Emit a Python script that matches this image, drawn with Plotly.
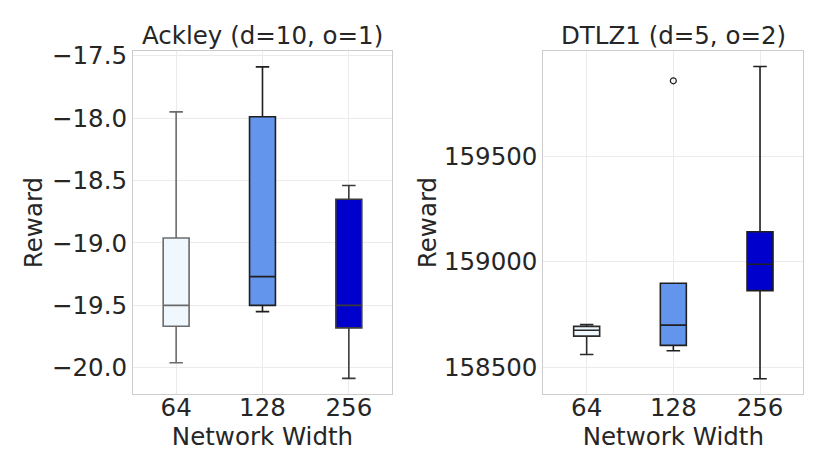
import plotly.graph_objects as go
from plotly.subplots import make_subplots

# network widths on the x axis
widths = ['64', '128', '256']
box_colors = ['#F0F8FF', '#6495ED', '#0000CD']

# Ackley (d=10, o=1) box stats
ack_low = [-19.96, -19.55, -20.085]
ack_q1 = [-19.667, -19.50, -19.68]
ack_med = [-19.50, -19.27, -19.50]
ack_q3 = [-18.96, -17.99, -18.65]
ack_high = [-17.95, -17.59, -18.54]
ack_edges = ['#6b6b6b', '#1f1f1f', '#3a3a3a']

# DTLZ1 (d=5, o=2)
dtlz_low = [158561, 158579, 158446]
dtlz_q1 = [158648, 158604, 158863]
dtlz_med = [158676, 158700, 158988]
dtlz_q3 = [158694, 158898, 159142]
dtlz_high = [158703, 158898, 159924]
dtlz_edges = ['#2a2a2a', '#1f1f1f', '#1f1f1f']
dtlz_out_x = ['128']
dtlz_out_y = [159856]

ack_ticks = [-20.0, -19.5, -19.0, -18.5, -18.0, -17.5]
dtlz_ticks = [158500, 159000, 159500]

TXT = '#262626'
FONT = 'DejaVu Sans'

fig = make_subplots(rows=1, cols=2)

for i, w in enumerate(widths):
    fig.add_trace(go.Box(x=[w], q1=[ack_q1[i]], median=[ack_med[i]], q3=[ack_q3[i]],
                         lowerfence=[ack_low[i]], upperfence=[ack_high[i]],
                         width=0.3, whiskerwidth=0.52, fillcolor=box_colors[i],
                         line=dict(color=ack_edges[i], width=1.6), boxpoints=False,
                         showlegend=False), row=1, col=1)
    fig.add_trace(go.Box(x=[w], q1=[dtlz_q1[i]], median=[dtlz_med[i]], q3=[dtlz_q3[i]],
                         lowerfence=[dtlz_low[i]], upperfence=[dtlz_high[i]],
                         width=0.3, whiskerwidth=0.52, fillcolor=box_colors[i],
                         line=dict(color=dtlz_edges[i], width=1.6), boxpoints=False,
                         showlegend=False), row=1, col=2)

fig.add_trace(go.Scatter(x=dtlz_out_x, y=dtlz_out_y, mode='markers',
                         marker=dict(symbol='circle-open', size=6, color='#1f1f1f',
                                     line=dict(width=1.2)),
                         showlegend=False), row=1, col=2)

ax_common = dict(showgrid=True, gridcolor='#ebebeb', gridwidth=1, automargin=False,
                 showline=True, linecolor='#cccccc', linewidth=1, mirror=True,
                 zeroline=False, ticks='', tickfont=dict(size=24.5, color=TXT, family=FONT))

fig.update_xaxes(**ax_common, type='category', categoryorder='array', categoryarray=widths,
                 range=[-0.5, 2.5], ticklabelstandoff=-8,
                 title=dict(text='Network Width', font=dict(size=24.5, color=TXT, family=FONT),
                            standoff=0))
fig.update_xaxes(domain=[0.1602, 0.4723], row=1, col=1)
fig.update_xaxes(domain=[0.6546, 0.9679], row=1, col=2)

fig.update_yaxes(**ax_common, domain=[0.1705, 0.8926],
                 title=dict(text='Reward', font=dict(size=24.5, color=TXT, family=FONT)))
fig.update_yaxes(range=[-20.21, -17.463], tickvals=ack_ticks, tickformat='.1f',
                 title_standoff=2, row=1, col=1)
fig.update_yaxes(range=[158374, 159997], tickvals=dtlz_ticks, tickformat='d',
                 title_standoff=0, row=1, col=2)

titles = ['Ackley (d=10, o=1)', 'DTLZ1 (d=5, o=2)']
centers = [(0.1602 + 0.4723) / 2, (0.6546 + 0.9679) / 2]
for t, cx in zip(titles, centers):
    fig.add_annotation(text=t, x=cx, y=0.8926, xref='paper', yref='paper',
                       xanchor='center', yanchor='bottom', yshift=-1, showarrow=False,
                       font=dict(size=24.5, color=TXT, family=FONT))

fig.update_layout(width=830, height=475, margin=dict(l=0, r=0, t=0, b=0),
                  paper_bgcolor='white', plot_bgcolor='white',
                  font=dict(family=FONT, color=TXT))

fig.write_html('out.html', config={'displayModeBar': False},
               post_script="document.body.style.margin='0';")
